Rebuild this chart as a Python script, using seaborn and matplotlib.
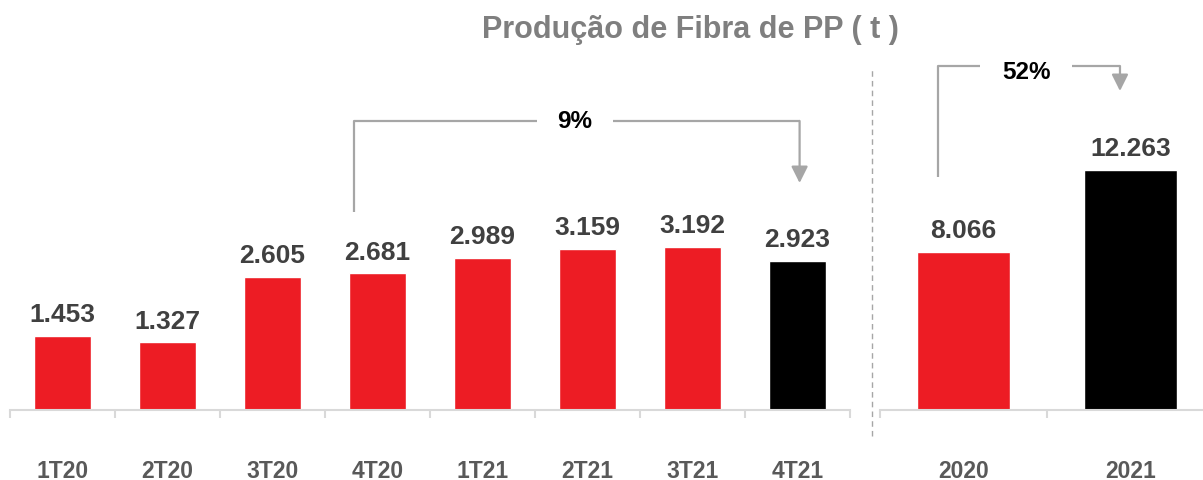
import matplotlib
matplotlib.use("Agg")
import matplotlib.pyplot as plt
from matplotlib.lines import Line2D
import seaborn as sns
import pandas as pd

# dados
quarters = ["1T20", "2T20", "3T20", "4T20", "1T21", "2T21", "3T21", "4T21"]
q_values = [1453, 1327, 2605, 2681, 2989, 3159, 3192, 2923]
q_colors = ["#ED1C24"] * 7 + ["#000000"]

years = ["2020", "2021"]
y_values = [8066, 12263]
y_colors = ["#ED1C24", "#000000"]

title = "Produção de Fibra de PP ( t )"
q_change = "9%"
y_change = "52%"

sns.set_theme(style="white")
plt.rcParams["font.family"] = ["Liberation Sans", "DejaVu Sans"]

GREY_TXT = "#404040"
TICK_TXT = "#595959"
LINE = "#A6A6A6"
AXIS = "#D9D9D9"

fig = plt.figure(figsize=(12.03, 4.81), dpi=100)
W, H = 1203, 481
bottom = 70 / H
height = 361 / H
ax1 = fig.add_axes([10 / W, bottom, 840 / W, height])
ax2 = fig.add_axes([880 / W, bottom, 323 / W, height])

df_q = pd.DataFrame({"Periodo": quarters, "Valor": q_values})
df_y = pd.DataFrame({"Periodo": years, "Valor": y_values})

sns.barplot(data=df_q, x="Periodo", y="Valor", hue="Periodo", palette=q_colors,
            width=0.55, ax=ax1, legend=False, saturation=1)
sns.barplot(data=df_y, x="Periodo", y="Valor", hue="Periodo", palette=y_colors,
            width=0.56, ax=ax2, legend=False, saturation=1)


def fmt(v):
    return f"{v:,.0f}".replace(",", ".")


for ax, vals in ((ax1, q_values), (ax2, y_values)):
    for i, v in enumerate(vals):
        ax.annotate(fmt(v), (i, v), xytext=(0, 7), textcoords="offset points",
                    ha="center", va="bottom", fontsize=19, fontweight="bold",
                    color=GREY_TXT)
    for s in ("top", "right", "left"):
        ax.spines[s].set_visible(False)
    ax.spines["bottom"].set_color(AXIS)
    ax.spines["bottom"].set_linewidth(1.5)
    ax.set_yticks([])
    ax.set_xlabel("")
    ax.set_ylabel("")
    n = len(vals)
    ax.set_xticks([i - 0.5 for i in range(n + 1)], minor=True)
    ax.tick_params(axis="x", which="minor", length=6, width=1.5, color=AXIS, bottom=True)
    ax.tick_params(axis="x", which="major", length=0, pad=35, labelsize=16.5,
                   labelcolor=TICK_TXT)
    for lab in ax.get_xticklabels():
        lab.set_fontweight("bold")

ax1.set_xlim(-0.5, 7.5)
ax1.set_ylim(0, 361 / 0.051)
ax2.set_xlim(-0.5, -0.5 + 323 / 167)
ax2.set_ylim(0, 361 / 0.0196)


def bracket(ax, x0, x1, y0, ytop, ytip, gap0, gap1, label, ylab):
    kw = dict(color=LINE, lw=1.6, solid_capstyle="butt")
    ax.plot([x0, x0, gap0], [y0, ytop, ytop], **kw)
    ax.plot([gap1, x1], [ytop, ytop], **kw)
    ax.annotate("", xy=(x1, ytip), xytext=(x1, ytop),
                arrowprops=dict(arrowstyle="-|>,head_length=0.5,head_width=0.25",
                                mutation_scale=20, color=LINE, lw=1.6,
                                shrinkA=0, shrinkB=0))
    ax.text((gap0 + gap1) / 2, ylab, label, ha="center", va="center",
            fontsize=17.5, fontweight="bold", color="black")


bracket(ax1, 2.78, 7.02, 3882, 5667, 4451, 4.52, 5.24, q_change, 5667)
bracket(ax2, -0.153, 0.937, 11888, 17551, 16276, 0.099, 0.650, y_change, 17245)

fig.add_artist(Line2D([872 / W, 872 / W], [(H - 437) / H, (H - 68) / H],
                      transform=fig.transFigure, color="#A6A6A6", lw=1,
                      linestyle=(0, (4, 3))))

fig.text(690 / W, 1 - 30 / H, title, ha="center", va="center",
         fontsize=22, fontweight="bold", color="#7F7F7F")

fig.savefig("out.png", dpi=100)
